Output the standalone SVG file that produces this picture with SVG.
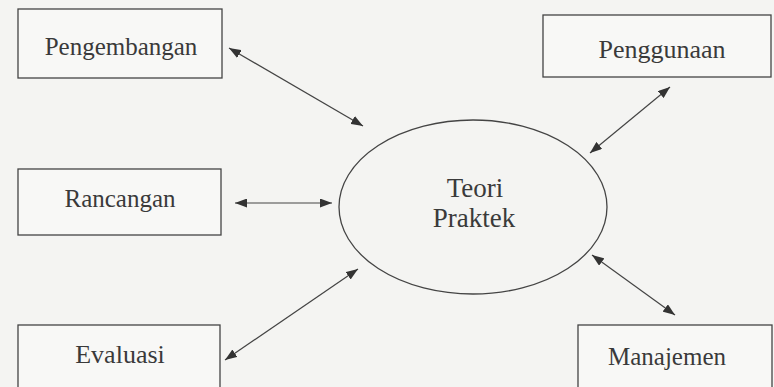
<svg xmlns="http://www.w3.org/2000/svg" width="774" height="387" viewBox="0 0 774 387">
  <defs>
    <marker id="ah" viewBox="0 0 12 9" refX="12" refY="4.5" markerWidth="12" markerHeight="9" markerUnits="userSpaceOnUse" orient="auto-start-reverse">
      <path d="M0,0 L12,4.5 L0,9 z" fill="#333"/>
    </marker>
  </defs>
  <style>
    .box { fill: #f8f8f6; stroke: #444; stroke-width: 1.3; }
    .lbl { font-family: "Liberation Serif", "DejaVu Serif", serif; font-size: 25px; fill: #3a3a3a; text-anchor: middle; }
    .con { stroke: #444; stroke-width: 1.2; fill: none; marker-start: url(#ah); marker-end: url(#ah); }
  </style>
  <rect x="0" y="0" width="774" height="387" fill="#f4f4f2"/>

  <g id="pengembangan">
    <rect class="box" x="18" y="9" width="204" height="69"/>
    <text class="lbl" x="121" y="55">Pengembangan</text>
  </g>
  <g id="penggunaan">
    <rect class="box" x="543" y="15" width="228" height="62"/>
    <text class="lbl" x="662" y="58" style="font-size:26px">Penggunaan</text>
  </g>
  <g id="rancangan">
    <rect class="box" x="18" y="169" width="203" height="66"/>
    <text class="lbl" x="120" y="207">Rancangan</text>
  </g>
  <g id="evaluasi">
    <rect class="box" x="18" y="325" width="202" height="80"/>
    <text class="lbl" x="120" y="363" style="font-size:26px">Evaluasi</text>
  </g>
  <g id="manajemen">
    <rect class="box" x="578" y="325" width="194" height="80"/>
    <text class="lbl" x="667" y="365">Manajemen</text>
  </g>
  <g id="teori-praktek">
    <ellipse cx="473" cy="207" rx="134" ry="87" fill="none" stroke="#444" stroke-width="1.3"/>
    <text class="lbl" x="475" y="197" style="font-size:27px">Teori</text>
    <text class="lbl" x="474" y="227" style="font-size:27px">Praktek</text>
  </g>

  <g id="connectors">
    <line class="con" x1="229" y1="48" x2="363" y2="126"/>
    <line class="con" x1="670" y1="87" x2="590" y2="153"/>
    <line class="con" x1="235" y1="203" x2="332" y2="203"/>
    <line class="con" x1="225" y1="360" x2="358" y2="269"/>
    <line class="con" x1="592" y1="255" x2="675" y2="315"/>
  </g>
</svg>
